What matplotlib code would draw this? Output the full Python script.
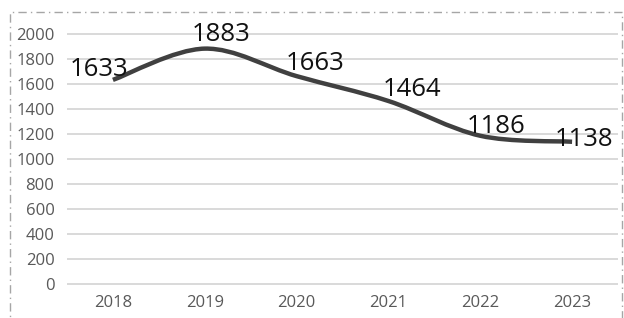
import matplotlib
matplotlib.use("Agg")
import matplotlib.pyplot as plt
from matplotlib.path import Path
from matplotlib.patches import PathPatch, Rectangle

years = ["2018", "2019", "2020", "2021", "2022", "2023"]
values = [1633, 1883, 1663, 1464, 1186, 1138]
label_offsets = [(-14, 10), (16, 14), (18, 13), (24, 12), (16, 9), (12, 2)]  # px

plt.rcParams['font.family'] = ['Open Sans', 'DejaVu Sans']

W, H, DPI = 624, 318, 100
fig = plt.figure(figsize=(W / DPI, H / DPI), dpi=DPI)
ax = fig.add_axes([67 / W, 1 - 292 / H, (618 - 67) / W, (292 - 22) / H])

ax.set_xlim(-0.5, len(years) - 0.5)
# mapping: y=2000 at 34px, y=0 at 284px (8 units per px)
ylo = 0 - (292 - 284) * 8
yhi = 2000 + (34 - 22) * 8
ax.set_ylim(ylo, yhi)

for v in range(0, 2001, 200):
    ax.axhline(v, color="#d9d9d9", lw=1.4, zorder=1)

# smooth curve (Excel-like bezier)
xs = list(range(len(values)))
pts = list(zip(xs, values))
verts = [pts[0]]
codes = [Path.MOVETO]
n = len(pts)
for i in range(n - 1):
    p0 = pts[i - 1] if i > 0 else pts[i]
    p1 = pts[i]
    p2 = pts[i + 1]
    p3 = pts[i + 2] if i + 2 < n else pts[i + 1]
    c1 = (p1[0] + (p2[0] - p0[0]) / 6, p1[1] + (p2[1] - p0[1]) / 6)
    c2 = (p2[0] - (p3[0] - p1[0]) / 6, p2[1] - (p3[1] - p1[1]) / 6)
    verts += [c1, c2, p2]
    codes += [Path.CURVE4] * 3
ax.add_patch(PathPatch(Path(verts, codes), facecolor="none", edgecolor="#404040",
                       lw=3.2, capstyle="butt", zorder=3))

for i, (x, v) in enumerate(zip(xs, values)):
    dx, dy = label_offsets[i]
    ax.annotate(str(v), (x, v), xytext=(dx * 72 / DPI, dy * 72 / DPI),
                textcoords="offset points", ha="center", va="center",
                fontsize=18.5, color="#111111", zorder=4)

ax.set_xticks(xs)
ax.set_xticklabels(years)
ax.set_yticks(range(0, 2001, 200))
ax.tick_params(axis="both", length=0, labelsize=12, labelcolor="#595959")
ax.tick_params(axis="y", pad=9)
ax.tick_params(axis="x", pad=2)
for s in ax.spines.values():
    s.set_visible(False)

fig.patches.append(Rectangle((10 / W, -0.05), (622 - 10) / W, 1.05 - 12 / H,
                             transform=fig.transFigure, fill=False,
                             edgecolor="#a6a6a6", lw=1.0, linestyle=(0, (6, 3, 1, 3))))

fig.savefig("out.png", dpi=DPI)
